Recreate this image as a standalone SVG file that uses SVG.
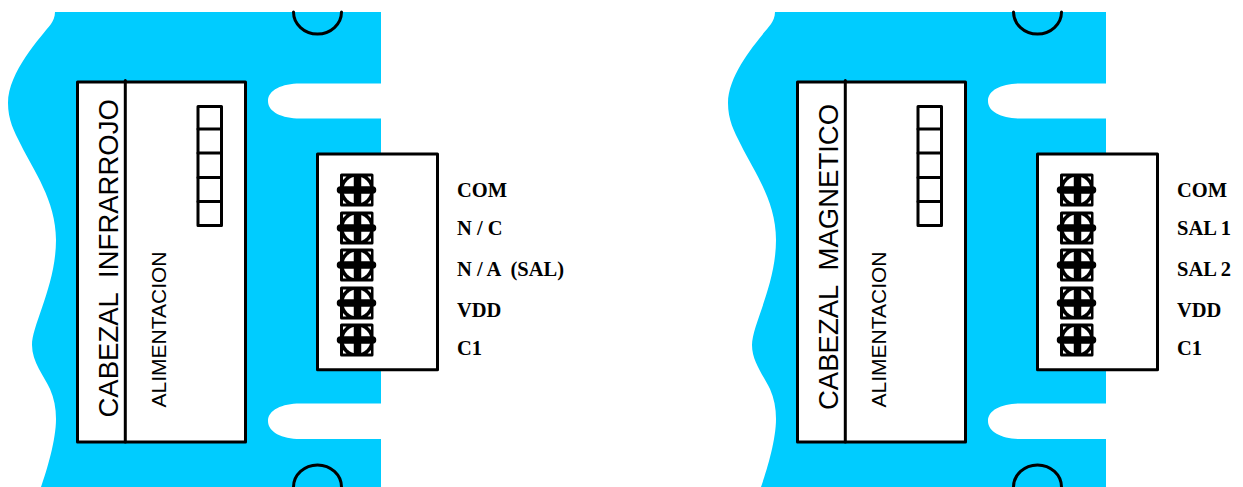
<svg xmlns="http://www.w3.org/2000/svg" width="1243" height="487" viewBox="0 0 1243 487">
<style>
.plate{fill:#00ccff;stroke:none}
.ln{fill:none;stroke:#000;stroke-width:3;stroke-linejoin:round;stroke-linecap:round}
.box{fill:#fff;stroke:#000;stroke-width:3;stroke-linejoin:round}
.t1{font-family:"Liberation Sans",Arial,sans-serif;font-size:27.500px;fill:#000}
.t2{font-family:"Liberation Sans",Arial,sans-serif;font-size:21px;fill:#000}
.lab{font-family:"Liberation Serif","Times New Roman",serif;font-size:20.500px;font-weight:bold;fill:#000;white-space:pre}
</style>
<defs>
<path id="arcs" class="ln" d="M293.500 12A24 22 0 0 0 341.500 12M293.500 487A24 22 0 0 1 341.500 487"/>
<g id="term">
<rect x="-16.500" y="-16.500" width="33.500" height="33" rx="1.500" fill="#000"/>
<path d="M-13.500 -13.500h3.500l-3.500 3.500zM14.500 -13.500h-3.500l3.500 3.500zM-13.500 13.500h3.500l-3.500 -3.500zM14.500 13.500h-3.500l3.500 -3.500z" fill="#fff"/>
<circle cx="0.500" r="13.500" fill="#fff"/>
<path d="M1 -15V15" stroke="#000" stroke-width="7.500" fill="none"/>
<path d="M-16 0H16" stroke="#000" stroke-width="7.500" stroke-linecap="round" fill="none"/>
</g>
<g id="smallConn">
<rect class="box" x="198" y="106.500" width="23.500" height="119"/>
<path class="ln" d="M198 129H221.500M198 153H221.500M198 177.500H221.500M198 201.500H221.500"/>
</g>
</defs>
<g id="infrarrojo">
<path class="plate" d="M55 12C55 17 53 21 51 24C41 37 8 72 8 103C8 120 14 131 21 145C33 170 56 200 56 240C56 285 32 325 32 345C32 362 44 376 50 389C54 398 56 408 56 419C56 440 47 470 41 487H381V439C370 439 318 439 300 439C282 439 268 432 268 421C268 410 282 403.500 300 403.500C318 403.500 370 403.500 381 403.500V118.500C370 118.500 318 118.500 300 118.500C282 118.500 268 112 268 101C268 90 282 83.500 300 83.500C318 83.500 370 83.500 381 83.500V12Z"/>
<use href="#arcs"/>
<g id="infrarrojo-cabezal">
<rect class="box" x="77.500" y="82" width="168" height="360"/>
<path class="ln" d="M125.300 80.500V442"/>
<text class="t1" transform="translate(118 417.500) rotate(-90)" xml:space="preserve">CABEZAL  INFRARROJO</text>
<text class="t2" transform="translate(166 407.500) rotate(-90)">ALIMENTACION</text>
<use href="#smallConn"/>
</g>
<g id="infrarrojo-bornera">
<rect class="box" x="317.500" y="154" width="120" height="215.700"/>
<use href="#term" x="356.500" y="190"/>
<use href="#term" x="356.500" y="228"/>
<use href="#term" x="356.500" y="265"/>
<use href="#term" x="356.500" y="303"/>
<use href="#term" x="356.500" y="340"/>
<text class="lab" x="457" y="197">COM</text>
<text class="lab" x="457" y="235">N / C</text>
<text class="lab" x="457" y="276" xml:space="preserve">N / A  (SAL)</text>
<text class="lab" x="457" y="317">VDD</text>
<text class="lab" x="457" y="355">C1</text>
</g>
</g>
<g id="magnetico" transform="translate(720 0)">
<path class="plate" d="M55 12C55 17 53 21 51 24C41 37 8 72 8 103C8 120 14 131 21 145C33 170 56 200 56 240C56 285 32 325 32 345C32 362 44 376 50 389C54 398 56 408 56 419C56 440 47 470 41 487H386V439C370 439 318 439 300 439C282 439 268 432 268 421C268 410 282 403.500 300 403.500C318 403.500 370 403.500 386 403.500V118.500C370 118.500 318 118.500 300 118.500C282 118.500 268 112 268 101C268 90 282 83.500 300 83.500C318 83.500 370 83.500 386 83.500V12Z"/>
<use href="#arcs"/>
<g id="magnetico-cabezal">
<rect class="box" x="77.500" y="82" width="168" height="360"/>
<path class="ln" d="M125.300 80.500V442"/>
<text class="t1" transform="translate(118 410) rotate(-90)" xml:space="preserve">CABEZAL  MAGNETICO</text>
<text class="t2" transform="translate(166 407.500) rotate(-90)">ALIMENTACION</text>
<use href="#smallConn"/>
</g>
<g id="magnetico-bornera">
<rect class="box" x="317.500" y="154" width="120" height="215.700"/>
<use href="#term" x="356.500" y="190"/>
<use href="#term" x="356.500" y="228"/>
<use href="#term" x="356.500" y="265"/>
<use href="#term" x="356.500" y="303"/>
<use href="#term" x="356.500" y="340"/>
<text class="lab" x="457" y="197">COM</text>
<text class="lab" x="457" y="235">SAL 1</text>
<text class="lab" x="457" y="276">SAL 2</text>
<text class="lab" x="457" y="317">VDD</text>
<text class="lab" x="457" y="355">C1</text>
</g>
</g>
<g id="connectors"></g>
</svg>
